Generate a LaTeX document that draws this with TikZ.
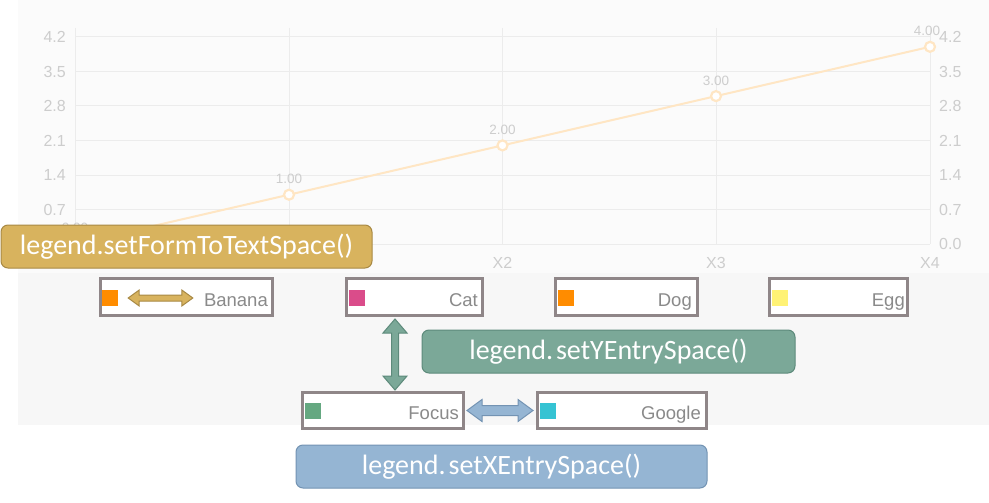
\documentclass[tikz,border=0pt]{standalone}
\usepackage{fontspec}
\setmainfont{Liberation Sans}
\newfontfamily\calfont{Carlito}
\usetikzlibrary{calc}
\definecolor{bgtop}{HTML}{FBFBFB}
\definecolor{bglow}{HTML}{F7F7F7}
\definecolor{gridc}{HTML}{ECECEC}
\definecolor{axlab}{HTML}{CDCDCD}
\definecolor{linec}{HTML}{FFE6C4}
\definecolor{legframe}{HTML}{8F8688}
\definecolor{legtxt}{HTML}{8A8A8A}
\definecolor{sqorange}{HTML}{FF8C00}
\definecolor{sqpink}{HTML}{DA4C8A}
\definecolor{sqgreen}{HTML}{65A881}
\definecolor{sqcyan}{HTML}{35C3D3}
\definecolor{sqyellow}{HTML}{FFF275}
\definecolor{goldfill}{HTML}{D8B35E}
\definecolor{golddraw}{HTML}{A88944}
\definecolor{teafill}{HTML}{7BA898}
\definecolor{teadraw}{HTML}{5D8A7B}
\definecolor{bluefill}{HTML}{95B5D3}
\definecolor{bluedraw}{HTML}{7393B3}
\newcommand\harrowshape[5]{% #1 left, #2 right, #3 shaft half, #4 head half, #5 head length
  let \p1=(#1), \p2=(#2) in
  (\x1,\y1) -- (\x1+#5,\y1+#4) -- (\x1+#5,\y1+#3) -- (\x2-#5,\y1+#3) -- (\x2-#5,\y1+#4)
  -- (\x2,\y1) -- (\x2-#5,\y1-#4) -- (\x2-#5,\y1-#3) -- (\x1+#5,\y1-#3) -- (\x1+#5,\y1-#4) -- cycle}
\newcommand\varrowshape[5]{% #1 top, #2 bottom
  let \p1=(#1), \p2=(#2) in
  (\x1,\y1) -- (\x1+#4,\y1-#5) -- (\x1+#3,\y1-#5) -- (\x1+#3,\y2+#5) -- (\x1+#4,\y2+#5)
  -- (\x1,\y2) -- (\x1-#4,\y2+#5) -- (\x1-#3,\y2+#5) -- (\x1-#3,\y1-#5) -- (\x1-#4,\y1-#5) -- cycle}
\begin{document}
\begin{tikzpicture}[x=1pt,y=-1pt,
  gridline/.style={draw=gridc, line width=1pt},
  ylab/.style={text=axlab, font=\fontsize{16}{17}\selectfont, inner sep=0pt},
  datalab/.style={text=axlab, font=\fontsize{13.5}{15}\selectfont, inner sep=0pt},
  dot/.style={circle, draw=linec, fill=white, line width=2.2pt, minimum size=10pt, inner sep=0pt},
  legbox/.style={draw=legframe, line width=3pt, fill=white, minimum height=37pt, inner sep=0pt},
  formsq/.style={minimum size=16pt, inner sep=0pt},
  legtext/.style={text=legtxt, font=\fontsize{18.5}{20}\selectfont, inner sep=0pt, anchor=base east},
  callout/.style={rounded corners=7pt, line width=1pt, minimum height=43pt, inner sep=0pt,
    text=white, font=\calfont\fontsize{28}{30}\selectfont}
]
\useasboundingbox (0,0) rectangle (989,503);
\fill[white] (0,0) rectangle (989,503);
\fill[bgtop] (18,0) rectangle (989,273);
\fill[bglow] (18,273) rectangle (989,425);
% grid
\foreach \yy in {244,209.5,175,140.5,106,71.5,37} \draw[gridline] (75,\yy) -- (930,\yy);
\foreach \xx in {75,289,502.5,716,930} \draw[gridline] (\xx,28) -- (\xx,244);
% axis labels
\foreach \yy/\t in {37/4.2,71.5/3.5,106/2.8,140.5/2.1,175/1.4,209.5/0.7}
  \node[ylab, anchor=east] (yl\t) at (66,\yy) {\t};
\foreach \yy/\t in {37/4.2,71.5/3.5,106/2.8,140.5/2.1,175/1.4,209.5/0.7,244/0.0}
  \node[ylab, anchor=west] (yr\t) at (939,\yy) {\t};
\node[ylab] (x2) at (502.5,263) {X2};
\node[ylab] (x3) at (716,263) {X3};
\node[ylab] (x4) at (930,263) {X4};
% data line
\draw[linec, line width=2pt] (75,244) -- (289,194.7) -- (502.5,145.4) -- (716,96.1) -- (930,46.8);
\node[dot] (p1) at (289,194.7) {};
\node[dot] (p2) at (502.5,145.4) {};
\node[dot] (p3) at (716,96.1) {};
\node[dot] (p4) at (930,46.8) {};
\node[datalab] (d0) at (75,228) {0.00};
\node[datalab] (d1) at (289,179) {1.00};
\node[datalab] (d2) at (502.5,129.5) {2.00};
\node[datalab] (d3) at (716,80.5) {3.00};
\node[datalab] (d4) at (927,31) {4.00};
% gold callout
\node[callout, fill=goldfill, draw=golddraw, minimum width=371pt] (formtext) at (186.5,246.5) {legend.setFormToTextSpace()};
% legend entries
\node[legbox, minimum width=172pt] (banana) at (186.5,297) {};
\node[legbox, minimum width=136pt] (cat) at (414.5,297) {};
\node[legbox, minimum width=142pt] (dog) at (626.5,297) {};
\node[legbox, minimum width=138pt] (egg) at (838.5,297) {};
\node[legbox, minimum width=161pt, minimum height=36pt] (focus) at (383,410.5) {};
\node[legbox, minimum width=169pt, minimum height=36pt] (google) at (622,410.5) {};
\node[formsq, fill=sqorange] (sqbanana) at (110,298) {};
\node[formsq, fill=sqpink] (sqcat) at (357,298) {};
\node[formsq, fill=sqorange] (sqdog) at (565.5,298) {};
\node[formsq, fill=sqyellow] (sqegg) at (779.5,298) {};
\node[formsq, fill=sqgreen] (sqfocus) at (313,411) {};
\node[formsq, fill=sqcyan] (sqgoogle) at (547.5,411) {};
\node[legtext] (tbanana) at (268,306) {Banana};
\node[legtext] (tcat) at (478,306) {Cat};
\node[legtext] (tdog) at (692,306) {Dog};
\node[legtext] (tegg) at (905,306) {Egg};
\node[legtext] (tfocus) at (459,419.5) {Focus};
\node[legtext] (tgoogle) at (701,419.5) {Google};
% arrows
\coordinate (ba1) at ($(sqbanana.east)+(10,0)$);
\coordinate (ba2) at ($(tbanana.west |- sqbanana.east)+(-11,0)$);
\filldraw[fill=goldfill, draw=golddraw, line width=1pt] \harrowshape{ba1}{ba2}{3pt}{8pt}{11pt};
\coordinate (vx) at (395,0);
\coordinate (va1) at ($(vx |- cat.south)+(0,2)$);
\coordinate (va2) at ($(vx |- focus.north)+(0,-1)$);
\filldraw[fill=teafill, draw=teadraw, line width=1pt] \varrowshape{va1}{va2}{3.5pt}{12pt}{14pt};
\coordinate (ha1) at ($(focus.east)+(2,0)$);
\coordinate (ha2) at ($(google.west)+(-3,0)$);
\filldraw[fill=bluefill, draw=bluedraw, line width=1pt] \harrowshape{ha1}{ha2}{5pt}{11pt}{15pt};
% callouts
\node[callout, fill=teafill, draw=teadraw, minimum width=373pt] (ytext) at (608.5,351.5) {legend.\kern3pt setYEntrySpace()};
\node[callout, fill=bluefill, draw=bluedraw, minimum width=411pt] (xtext) at (501.5,466.5) {legend.\kern3pt setXEntrySpace()};
\end{tikzpicture}
\end{document}
